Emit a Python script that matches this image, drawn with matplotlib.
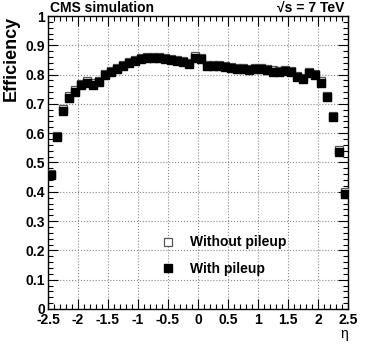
import matplotlib
matplotlib.use('Agg')
import matplotlib.pyplot as plt
from matplotlib.ticker import MultipleLocator, FuncFormatter

plt.rcParams['font.family'] = ['Liberation Sans', 'DejaVu Sans']

# bin centres in eta
eta = [-2.45, -2.35, -2.25, -2.15, -2.05, -1.95, -1.85, -1.75, -1.65, -1.55,
       -1.45, -1.35, -1.25, -1.15, -1.05, -0.95, -0.85, -0.75, -0.65, -0.55,
       -0.45, -0.35, -0.25, -0.15, -0.05, 0.05, 0.15, 0.25, 0.35, 0.45,
       0.55, 0.65, 0.75, 0.85, 0.95, 1.05, 1.15, 1.25, 1.35, 1.45,
       1.55, 1.65, 1.75, 1.85, 1.95, 2.05, 2.15, 2.25, 2.35, 2.45]

eff_pileup = [0.458, 0.588, 0.677, 0.720, 0.741, 0.763, 0.772, 0.765, 0.774, 0.797,
              0.809, 0.818, 0.830, 0.839, 0.847, 0.853, 0.855, 0.855, 0.855, 0.853,
              0.850, 0.847, 0.843, 0.836, 0.858, 0.853, 0.830, 0.829, 0.828, 0.826,
              0.823, 0.820, 0.818, 0.816, 0.819, 0.818, 0.814, 0.810, 0.809, 0.812,
              0.808, 0.792, 0.786, 0.804, 0.797, 0.772, 0.722, 0.654, 0.536, 0.394]

eff_nopileup = [0.462, 0.592, 0.682, 0.726, 0.746, 0.768, 0.778, 0.770, 0.779, 0.801,
                0.813, 0.822, 0.834, 0.843, 0.851, 0.857, 0.859, 0.859, 0.859, 0.857,
                0.854, 0.851, 0.847, 0.840, 0.862, 0.857, 0.834, 0.833, 0.832, 0.830,
                0.827, 0.824, 0.822, 0.820, 0.823, 0.822, 0.818, 0.814, 0.813, 0.816,
                0.812, 0.796, 0.790, 0.808, 0.801, 0.777, 0.727, 0.659, 0.541, 0.398]

fig = plt.figure(figsize=(3.74, 3.55), dpi=100)
ax = fig.add_axes([48/374, 46/355, 300/374, 293/355])

ax.plot(eta, eff_nopileup, 's', ms=6.2, mfc='white', mec='#555555', mew=0.9,
        label='Without pileup', zorder=3)
ax.plot(eta, eff_pileup, 's', ms=5.5, color='black', label='With pileup', zorder=4)

ax.set_xlim(-2.5, 2.5)
ax.set_ylim(0, 1)
ax.xaxis.set_major_locator(MultipleLocator(0.5))
ax.xaxis.set_minor_locator(MultipleLocator(0.1))
ax.yaxis.set_major_locator(MultipleLocator(0.1))
ax.yaxis.set_minor_locator(MultipleLocator(0.02))
fmt = FuncFormatter(lambda v, p: f"{v:g}".replace('\u2212', '-'))
ax.xaxis.set_major_formatter(fmt)
ax.yaxis.set_major_formatter(fmt)
ax.tick_params(which='both', direction='in', top=True, right=True, width=0.8)
ax.tick_params(which='major', length=7, labelsize=10, pad=2)
ax.tick_params(axis='x', which='major', pad=3)
ax.tick_params(which='minor', length=3.5)
for lab in ax.get_xticklabels() + ax.get_yticklabels():
    lab.set_fontweight('bold')

ax.grid(True, which='major', linestyle=':', color='#888888', linewidth=0.8)

ax.set_ylabel('Efficiency', loc='top', fontsize=13, fontweight='bold', labelpad=4)
ax.set_xlabel('\u03b7', loc='right', fontsize=10, labelpad=0)

for s in ax.spines.values():
    s.set_color('black')
    s.set_linewidth(1)

leg = ax.legend(loc='lower left', bbox_to_anchor=(0.33, 0.07), frameon=False,
                prop={'weight': 'bold', 'size': 10}, handletextpad=1.0,
                labelspacing=0.9, handlelength=1.2)

fig.text(50/374, 1 - 12/355, 'CMS simulation', fontsize=10, fontweight='bold',
         va='baseline', ha='left')
fig.text(344/374, 1 - 12/355, '\u221as = 7 TeV', fontsize=10, fontweight='bold',
         va='baseline', ha='right')

fig.savefig('out.png', dpi=100)
